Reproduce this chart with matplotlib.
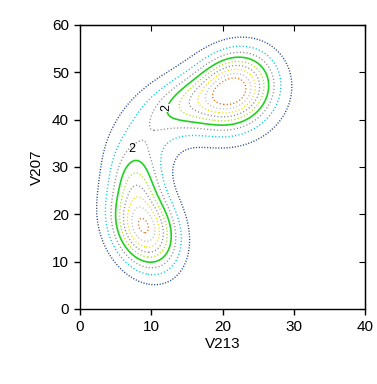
import numpy as np
import matplotlib
matplotlib.use("Agg")
import matplotlib.pyplot as plt

plt.rcParams['font.family'] = ['Liberation Sans', 'DejaVu Sans']

# Mixture components: centres, spreads, tilt, heights
comp_mx = [9.0, 8.0, 8.5, 21.8, 15.5, 20.0, 8.5]
comp_my = [17.0, 27.0, 35.0, 46.5, 43.5, 43.5, 20.0]
comp_sx = [2.9, 2.2, 3.3, 3.4, 4.0, 7.5, 5.0]
comp_sy = [5.5, 4.3, 5.5, 5.0, 4.0, 8.0, 9.0]
comp_rho = [-0.25, -0.1, 0.2, 0.15, 0.3, 0.0, -0.1]
comp_h = [4.15, 1.4, 1.0, 4.1, 1.8, 0.6, 0.38]

levels = [0.5, 1.0, 1.5, 2.0, 2.5, 3.0, 3.5, 4.0, 4.5]
level_colors = ['#1a55d0', '#00c8d8', '#909090', '#22d022', '#a8e020',
                '#909090', '#f0e000', '#c0c0c0', '#e07010']
labelled_level = 2.0

x_label = 'V213'
y_label = 'V207'
x_ticks = [0, 10, 20, 30, 40]
y_ticks = [0, 10, 20, 30, 40, 50, 60]

xg = np.linspace(0, 40, 321)
yg = np.linspace(0, 60, 481)
X, Y = np.meshgrid(xg, yg)
Z = np.zeros_like(X)
for mx, my, sx, sy, r, h in zip(comp_mx, comp_my, comp_sx, comp_sy, comp_rho, comp_h):
    dx = (X - mx) / sx
    dy = (Y - my) / sy
    q = (dx**2 - 2 * r * dx * dy + dy**2) / (1 - r**2)
    Z += h * np.exp(-0.5 * q)

fig = plt.figure(figsize=(3.77, 3.84), dpi=100)
ax = fig.add_axes([80/377, 1-309/384, 285/377, 284/384])

for i, (lev, col) in enumerate(zip(levels, level_colors)):
    if lev == labelled_level:
        ax.contour(X, Y, Z, levels=[lev], colors=[col], linewidths=1.2,
                   linestyles='solid')
    elif i == 0:
        ax.contour(X, Y, Z, levels=[lev], colors=[col], linewidths=1.0,
                   linestyles=[(0, (0.8, 3.2))])
        ax.contour(X, Y, Z, levels=[lev], colors=['#404040'], linewidths=1.0,
                   linestyles=[(2.0, (0.8, 3.2))])
    else:
        ax.contour(X, Y, Z, levels=[lev], colors=[col], linewidths=1.0,
                   linestyles=[(0, (0.8, 1.6))])

ax.text(7.3, 32.6, '2', fontsize=9, ha='center', va='bottom')
ax.text(12.1, 42.5, '2', fontsize=9, ha='center', va='center', rotation=90,
        bbox=dict(facecolor='white', edgecolor='none', pad=0.2))

ax.set_xlim(0, 40)
ax.set_ylim(0, 60)
ax.set_xticks(x_ticks)
ax.set_yticks(y_ticks)
ax.tick_params(axis='both', which='both', direction='out', length=4, width=1,
               labelsize=11, pad=4, colors='black')
ax.set_xlabel(x_label, fontsize=11, labelpad=2)
ax.set_ylabel(y_label, fontsize=11, labelpad=6)
for s in ax.spines.values():
    s.set_linewidth(1)

# inward ticks on top and right
ax2 = ax.secondary_xaxis('top')
ax2.set_xticks(x_ticks)
ax2.tick_params(direction='in', length=4, labeltop=False)
ax3 = ax.secondary_yaxis('right')
ax3.set_yticks(y_ticks)
ax3.tick_params(direction='in', length=4, labelright=False)

fig.savefig('out.png', dpi=100)
